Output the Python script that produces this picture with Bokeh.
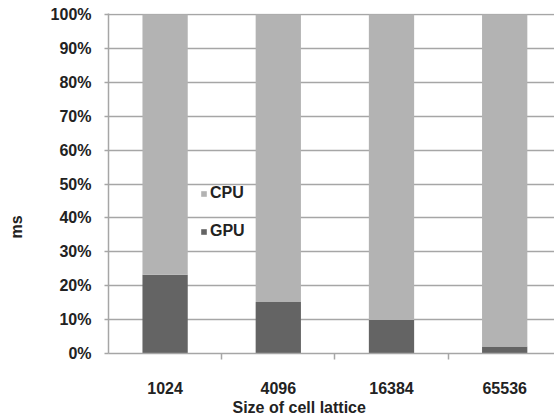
from bokeh.plotting import figure
from bokeh.models import (Range1d, FixedTicker, NumeralTickFormatter, Legend, LegendItem,
                          Title, ColumnDataSource)
from bokeh.embed import file_html
from bokeh.resources import INLINE

categories = ["1024", "4096", "16384", "65536"]
gpu = [0.232, 0.152, 0.099, 0.021]
cpu = [1 - g for g in gpu]
y_ticks = [0.0, 0.1, 0.2, 0.3, 0.4, 0.5, 0.6, 0.7, 0.8, 0.9, 1.0]

FONT = "Liberation Sans"
TXT = "#222222"
GRID = "#a6a6a6"

xs = [i + 0.5 for i in range(len(categories))]
src = ColumnDataSource(dict(x=xs, GPU=gpu, CPU=cpu))

p = figure(width=554, height=416, output_backend="svg", toolbar_location=None,
           x_range=Range1d(0, 3.94), y_range=Range1d(0, 1.003),
           min_border_left=108, min_border_right=0, min_border_top=13,
           min_border_bottom=63)
p.outline_line_color = None
p.background_fill_color = "white"
p.border_fill_color = "white"

r = p.vbar_stack(["GPU", "CPU"], x="x", width=0.4, source=src,
                 color=["#646464", "#b3b3b3"], line_color=None)

# x axis
xa = p.xaxis[0]
xa.ticker = FixedTicker(ticks=xs, minor_ticks=[1, 2, 3])
xa.major_label_overrides = {x: c for x, c in zip(xs, categories)}
xa.major_tick_out = 0
xa.major_tick_in = 0
xa.minor_tick_out = 6
xa.minor_tick_in = 0
xa.minor_tick_line_color = GRID
xa.minor_tick_line_width = 1.5
xa.axis_line_color = GRID
xa.axis_line_width = 1.5
xa.major_label_standoff = 22
xa.major_label_text_font = FONT
xa.major_label_text_font_style = "bold"
xa.major_label_text_font_size = "16px"
xa.major_label_text_color = TXT

# y axis
ya = p.yaxis[0]
ya.ticker = FixedTicker(ticks=y_ticks)
ya.formatter = NumeralTickFormatter(format="0%")
ya.major_tick_out = 4
ya.major_tick_in = 0
ya.minor_tick_out = 0
ya.minor_tick_in = 0
ya.major_tick_line_color = GRID
ya.major_tick_line_width = 1.5
ya.axis_line_color = GRID
ya.axis_line_width = 1.5
ya.major_label_standoff = 13
ya.major_label_text_font = FONT
ya.major_label_text_font_style = "bold"
ya.major_label_text_font_size = "16px"
ya.major_label_text_color = TXT

p.xgrid.grid_line_color = None
p.ygrid.grid_line_color = GRID
p.ygrid.grid_line_width = 1.5
p.ygrid.ticker = FixedTicker(ticks=y_ticks)

legend = Legend(items=[LegendItem(label="CPU", renderers=[r[1]]),
                       LegendItem(label="GPU", renderers=[r[0]])],
                location=(92, 113), orientation="vertical",
                background_fill_alpha=0, border_line_color=None,
                padding=0, margin=0, spacing=20, glyph_width=7, glyph_height=7,
                label_height=18, label_standoff=3,
                label_text_font=FONT, label_text_font_style="bold",
                label_text_font_size="16px", label_text_color=TXT)
p.add_layout(legend, "center")

xt = Title(text="Size of cell lattice", align="left", offset=124, standoff=0,
           text_font=FONT, text_font_style="bold", text_font_size="16px",
           text_color=TXT)
p.add_layout(xt, "below")
yt = Title(text="ms\n", align="left", offset=115, standoff=8, vertical_align="top",
           text_font=FONT, text_font_style="bold", text_font_size="16px",
           text_color=TXT)
p.add_layout(yt, "left")

open("out.html", "w").write(file_html(p, INLINE))
